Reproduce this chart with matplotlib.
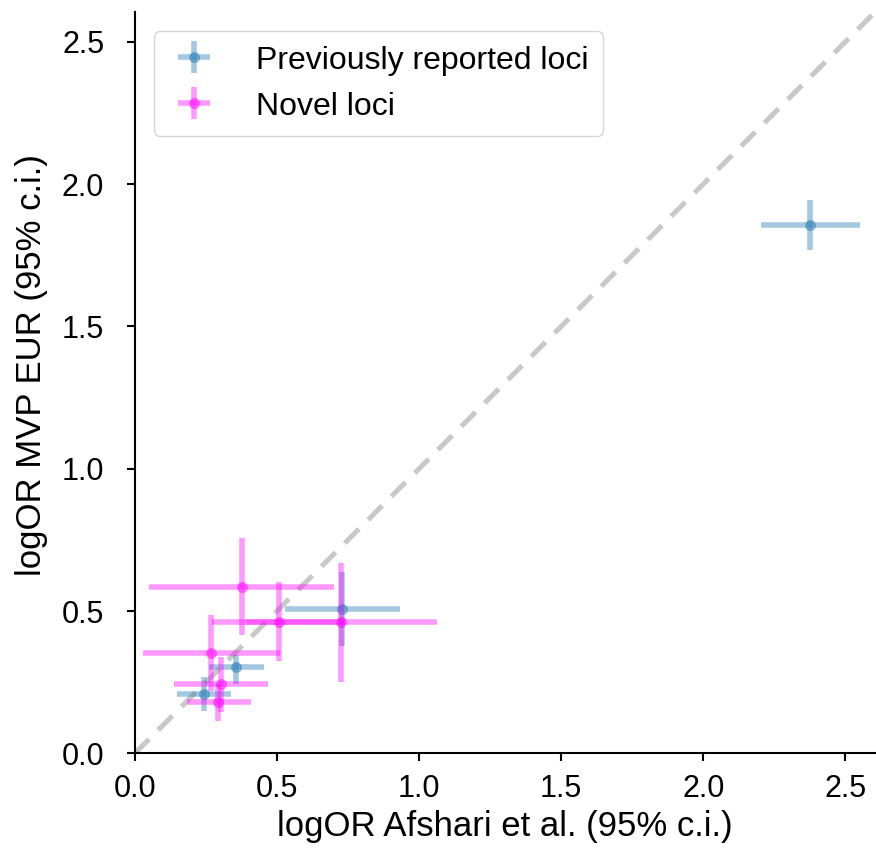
import numpy as np
import matplotlib
matplotlib.use('Agg')
import matplotlib.pyplot as plt

plt.rcParams['font.family'] = ['Liberation Sans', 'DejaVu Sans']

# previously reported loci: point estimate and 95% c.i. in both studies
prev_x = [2.377, 0.729, 0.356, 0.243]
prev_x_lo = [2.204, 0.528, 0.261, 0.147]
prev_x_hi = [2.553, 0.933, 0.454, 0.337]
prev_y = [1.857, 0.508, 0.303, 0.210]
prev_y_lo = [1.768, 0.376, 0.242, 0.150]
prev_y_hi = [1.946, 0.638, 0.344, 0.267]

# novel loci
novel_x = [0.376, 0.507, 0.727, 0.269, 0.304, 0.293]
novel_x_lo = [0.050, 0.273, 0.392, 0.029, 0.137, 0.184]
novel_x_hi = [0.701, 0.741, 1.062, 0.511, 0.469, 0.407]
novel_y = [0.586, 0.461, 0.461, 0.354, 0.243, 0.180]
novel_y_lo = [0.414, 0.324, 0.250, 0.220, 0.144, 0.112]
novel_y_hi = [0.755, 0.601, 0.669, 0.485, 0.340, 0.245]

lim = 2.605


def err(v, lo, hi):
    v, lo, hi = np.array(v), np.array(lo), np.array(hi)
    return [v - lo, hi - v]


fig = plt.figure(figsize=(8.76, 8.57), dpi=100)
ax = fig.add_axes([0.154, 0.121, 0.845, 0.865])

ax.plot([0, lim], [0, lim], '--', color='#c8c8c8', lw=3.6, dashes=(4, 2.6), zorder=1)

ax.errorbar(prev_x, prev_y, xerr=err(prev_x, prev_x_lo, prev_x_hi),
            yerr=err(prev_y, prev_y_lo, prev_y_hi), fmt='o', color='C0',
            ms=7, elinewidth=4, alpha=0.4, label='Previously reported loci', zorder=2)
ax.errorbar(novel_x, novel_y, xerr=err(novel_x, novel_x_lo, novel_x_hi),
            yerr=err(novel_y, novel_y_lo, novel_y_hi), fmt='o', color='magenta',
            ms=7, elinewidth=4, alpha=0.4, label='Novel loci', zorder=3)

ax.set_xlim(0, lim)
ax.set_ylim(0, lim)
ax.set_xticks([0, 0.5, 1.0, 1.5, 2.0, 2.5])
ax.set_yticks([0, 0.5, 1.0, 1.5, 2.0, 2.5])
ax.spines['top'].set_visible(False)
ax.spines['right'].set_visible(False)
for s in ['left', 'bottom']:
    ax.spines[s].set_linewidth(1.5)
ax.tick_params(labelsize=22, width=1.5, length=6)
ax.tick_params(axis='x', pad=9)
ax.tick_params(axis='y', pad=16)

ax.set_xlabel('logOR Afshari et al. (95% c.i.)', fontsize=25, labelpad=4)
ax.set_ylabel('logOR MVP EUR (95% c.i.)', fontsize=25)
ax.yaxis.set_label_coords(-0.118, 0.524)

ax.legend(loc='upper left', fontsize=23, frameon=True, borderaxespad=0.6,
          handletextpad=1.15, handlelength=1.6, borderpad=0.45)

fig.savefig('out.png', dpi=100)
